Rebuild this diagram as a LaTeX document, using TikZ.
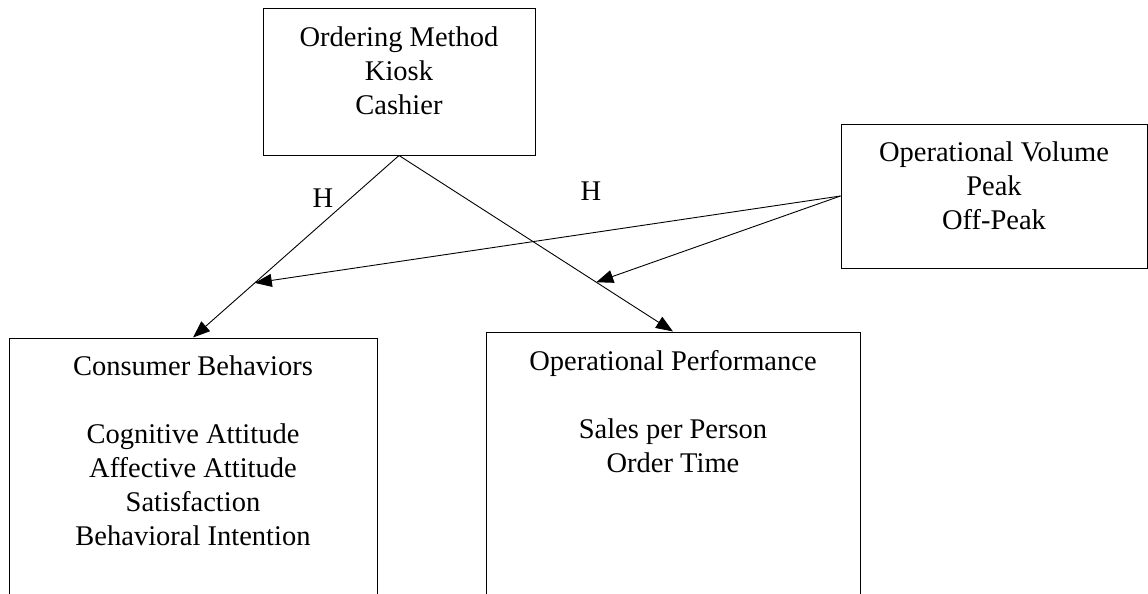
\documentclass[tikz,border=0pt]{standalone}
\usepackage{fontspec}
\setmainfont{Liberation Serif}
\usetikzlibrary{calc,arrows.meta}
\tikzstyle{box}=[draw,line width=1pt,minimum width=#1,inner sep=0pt]
\tikzstyle{txt}=[align=center,anchor=north,inner sep=0pt]
\newcommand{\myarrow}[2]{\draw[-{Triangle[length=17pt,width=13pt]}] (#1) -- (#2);}

\begin{document}
\begin{tikzpicture}[x=1pt,y=-1pt,line width=0.9pt,font=\fontsize{28.5}{34}\selectfont]
    \clip (0,0) rectangle (1148,594);
    % boxes, the two lower ones run off the page
    \node[box=272pt,minimum height=146pt] (method) at (399,82) {};
    \node[box=306pt,minimum height=144pt] (volume) at (994,196) {};
    \node[box=368pt,minimum height=300pt] (consumer) at (193,488) {};
    \node[box=374pt,minimum height=300pt] (perf) at (673,482) {};

    \node[txt] (methodtxt) at ([yshift=-18pt]method.north) {Ordering Method\\Kiosk\\Cashier};
    \node[txt] (volumetxt) at ([yshift=-18pt]volume.north) {Operational Volume\\Peak\\Off-Peak};
    \node[txt] (consumertxt) at ([yshift=-18pt]consumer.north) {Consumer Behaviors\\[34pt]Cognitive Attitude\\Affective Attitude\\Satisfaction\\Behavioral Intention};
    \node[txt] (perftxt) at ([yshift=-18pt]perf.north) {Operational Performance\\[34pt]Sales per Person\\Order Time};

    \myarrow{method.south}{consumer.north}
    \myarrow{method.south}{perf.north}
    \coordinate (cbhit) at ($(method.south)!0.7!(consumer.north)$);
    \coordinate (ophit) at ($(method.south)!0.72!(perf.north)$);
    \myarrow{volume.west}{cbhit}
    \myarrow{volume.west}{ophit}

    \node (hcb) at (323,198) {H};
    \node (hop) at (591,191) {H};
\end{tikzpicture}
\end{document}
